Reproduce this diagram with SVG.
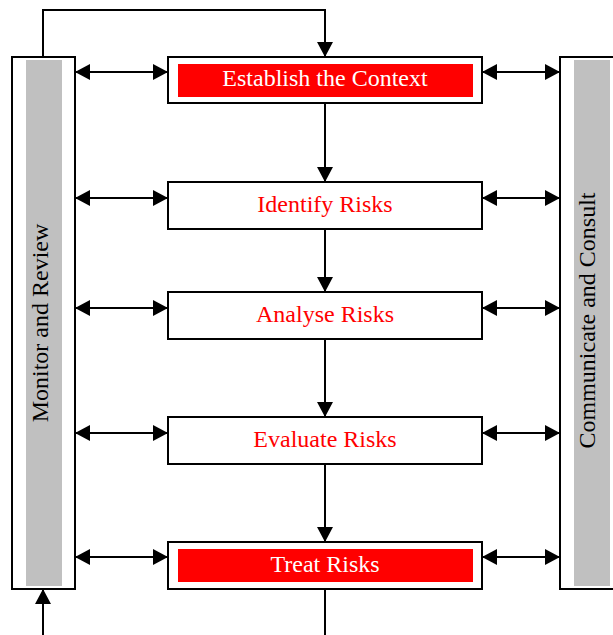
<svg xmlns="http://www.w3.org/2000/svg" width="613" height="635" viewBox="0 0 613 635">
<defs>
<marker id="ah" viewBox="0 0 15 16" refX="15" refY="8" markerWidth="15" markerHeight="16" markerUnits="userSpaceOnUse" orient="auto-start-reverse">
<path d="M0,0 L15,8 L0,16 Z" fill="#000"/>
</marker>
<style>
.box{fill:#fff;stroke:#000;stroke-width:2}
.red{fill:#ff0000}
.gray{fill:#c0c0c0}
.ln{fill:none;stroke:#000;stroke-width:2}
.t{font-family:"Liberation Serif","Times New Roman",serif;font-size:24px;text-anchor:middle}
.tr{fill:#ff0000}
.tw{fill:#fff}
.tb{fill:#000}
</style>
</defs>
<rect width="613" height="635" fill="#fff"/>
<g id="connectors">
<path class="ln" d="M43,57 V10 H325 V57" marker-end="url(#ah)"/>
<path class="ln" d="M325,103 V182" marker-end="url(#ah)"/>
<path class="ln" d="M325,229 V292" marker-end="url(#ah)"/>
<path class="ln" d="M325,339 V417" marker-end="url(#ah)"/>
<path class="ln" d="M325,464 V542" marker-end="url(#ah)"/>
<path class="ln" d="M325,589 V635"/>
<path class="ln" d="M43,635 V589" marker-end="url(#ah)"/>
<path class="ln" d="M75,72 H168" marker-start="url(#ah)" marker-end="url(#ah)"/>
<path class="ln" d="M75,198 H168" marker-start="url(#ah)" marker-end="url(#ah)"/>
<path class="ln" d="M75,308 H168" marker-start="url(#ah)" marker-end="url(#ah)"/>
<path class="ln" d="M75,433 H168" marker-start="url(#ah)" marker-end="url(#ah)"/>
<path class="ln" d="M75,557 H168" marker-start="url(#ah)" marker-end="url(#ah)"/>
<path class="ln" d="M482,72 H560" marker-start="url(#ah)" marker-end="url(#ah)"/>
<path class="ln" d="M482,198 H560" marker-start="url(#ah)" marker-end="url(#ah)"/>
<path class="ln" d="M482,308 H560" marker-start="url(#ah)" marker-end="url(#ah)"/>
<path class="ln" d="M482,433 H560" marker-start="url(#ah)" marker-end="url(#ah)"/>
<path class="ln" d="M482,557 H560" marker-start="url(#ah)" marker-end="url(#ah)"/>
</g>
<g id="monitor">
<rect class="box" x="12" y="57" width="63" height="532"/>
<rect class="gray" x="26" y="60" width="36" height="526"/>
<text class="t tb" transform="translate(47.5,323) rotate(-90)">Monitor and Review</text>
</g>
<g id="communicate">
<rect class="box" x="560" y="57" width="63" height="532"/>
<rect class="gray" x="574" y="60" width="36" height="526"/>
<text class="t tb" transform="translate(594.5,320.5) rotate(-90)">Communicate and Consult</text>
</g>
<g id="establish">
<rect class="box" x="168" y="57" width="314" height="46"/>
<rect class="red" x="178" y="64" width="295" height="33"/>
<text class="t tw" x="325" y="86">Establish the Context</text>
</g>
<g id="identify">
<rect class="box" x="168" y="182" width="314" height="47"/>
<text class="t tr" x="325" y="212">Identify Risks</text>
</g>
<g id="analyse">
<rect class="box" x="168" y="292" width="314" height="47"/>
<text class="t tr" x="325" y="322">Analyse Risks</text>
</g>
<g id="evaluate">
<rect class="box" x="168" y="417" width="314" height="47"/>
<text class="t tr" x="325" y="447">Evaluate Risks</text>
</g>
<g id="treat">
<rect class="box" x="168" y="542" width="314" height="47"/>
<rect class="red" x="178" y="549" width="295" height="33"/>
<text class="t tw" x="325" y="572">Treat Risks</text>
</g>
</svg>
